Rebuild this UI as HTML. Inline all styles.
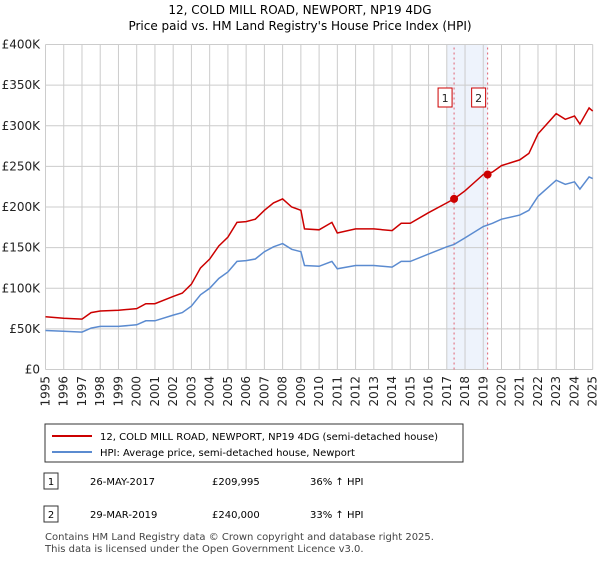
<!DOCTYPE html>
<html><head><meta charset="utf-8"><style>
body{margin:0;background:#fff;font-family:"Liberation Sans","DejaVu Sans",sans-serif;color:#222}
svg text{font-family:"DejaVu Sans","Liberation Sans",sans-serif}
</style></head><body>
<svg width="600" height="560" xmlns="http://www.w3.org/2000/svg">
<text x="300" y="14" font-size="12" text-anchor="middle">12, COLD MILL ROAD, NEWPORT, NP19 4DG</text>
<text x="300" y="30" font-size="12" text-anchor="middle">Price paid vs. HM Land Registry's House Price Index (HPI)</text>
<g id="grid"></g><g id="axes"></g><g id="series"></g>
<g>
<rect x="45" y="424" width="418" height="38" fill="#fff" stroke="#333"/>
<line x1="52" y1="436" x2="92" y2="436" stroke="#cc0000" stroke-width="2"/>
<text x="100" y="440" font-size="10">12, COLD MILL ROAD, NEWPORT, NP19 4DG (semi-detached house)</text>
<line x1="52" y1="452" x2="92" y2="452" stroke="#5b8bd0" stroke-width="2"/>
<text x="100" y="456" font-size="10">HPI: Average price, semi-detached house, Newport</text>
</g>
<g font-size="10">
<rect x="44" y="473" width="14" height="16" fill="#fff" stroke="#333"/><text x="51" y="485" text-anchor="middle">1</text>
<text x="90" y="485">26-MAY-2017</text><text x="212" y="485">£209,995</text><text x="310" y="485">36% ↑ HPI</text>
<rect x="44" y="506" width="14" height="16" fill="#fff" stroke="#333"/><text x="51" y="518" text-anchor="middle">2</text>
<text x="90" y="518">29-MAR-2019</text><text x="212" y="518">£240,000</text><text x="310" y="518">33% ↑ HPI</text>
</g>
<text x="45" y="540" font-size="10" fill="#444">Contains HM Land Registry data © Crown copyright and database right 2025.</text>
<text x="45" y="552" font-size="10" fill="#444">This data is licensed under the Open Government Licence v3.0.</text>
</svg>
<script>
const hpiYears=[1995,1996,1997,1997.5,1998,1999,2000,2000.5,2001,2002,2002.5,2003,2003.5,2004,2004.5,2005,2005.5,2006,2006.5,2007,2007.5,2008,2008.5,2009,2009.2,2010,2010.7,2011,2012,2013,2014,2014.5,2015,2016,2017,2017.4,2018,2019,2019.5,2020,2021,2021.5,2022,2023,2023.5,2024,2024.3,2024.8,2025];
const hpiValues=[48,47,46,51,53,53,55,60,60,67,70,78,92,100,112,120,133,134,136,145,151,155,148,145,128,127,133,124,128,128,126,133,133,142,151,154,162,176,180,185,190,196,213,233,228,231,222,237,235];
const priceValues=[65,63,62,70,72,73,75,81,81,90,94,105,125,136,152,163,181,182,185,196,205,210,200,196,173,172,181,168,173,173,171,180,180,193,205,210,220,240,243,251,258,266,290,315,308,312,302,322,318];
const yTicks=[0,50,100,150,200,250,300,350,400];
const yTickLabels=["£0","£50K","£100K","£150K","£200K","£250K","£300K","£350K","£400K"];
const xTicks=[1995,1996,1997,1998,1999,2000,2001,2002,2003,2004,2005,2006,2007,2008,2009,2010,2011,2012,2013,2014,2015,2016,2017,2018,2019,2020,2021,2022,2023,2024,2025];
const saleDates=[2017.4,2019.24];
const saleValues=[209.995,240];
const saleLabels=["1","2"];
const NS="http://www.w3.org/2000/svg";
const X=y=>45.5+(y-1995)*(592.7-45.5)/30;
const Y=v=>369.5-v*(325/400);
function mk(t,a,p){const e=document.createElementNS(NS,t);for(const k in a)e.setAttribute(k,a[k]);p.appendChild(e);return e;}
const grid=document.getElementById('grid'),axes=document.getElementById('axes'),ser=document.getElementById('series');
const band=mk('rect',{x:X(2017),y:Y(400),width:X(2019.24)-X(2017),height:Y(0)-Y(400),fill:'#eef3fc'},grid);

yTicks.forEach((v,i)=>{const l=mk('line',{x1:X(1995),x2:X(2025),y1:Y(v),y2:Y(v),stroke:'#ccc'},grid);

const t=mk('text',{x:40,y:Y(v)+4,'font-size':12,'text-anchor':'end',fill:'#222'},axes);t.textContent=yTickLabels[i];
});
xTicks.forEach(v=>{const l=mk('line',{x1:X(v),x2:X(v),y1:Y(0),y2:Y(400),stroke:'#ccc'},grid);

const t=mk('text',{x:X(v)+4,y:376,'font-size':12,'text-anchor':'end',fill:'#222',transform:`rotate(-90 ${X(v)+4} 376)`},axes);t.textContent=v;
});
saleDates.forEach((d,i)=>{const l=mk('line',{x1:X(d),x2:X(d),y1:Y(0),y2:Y(400),stroke:'#e06070','stroke-dasharray':'2,3'},ser);

const r=mk('rect',{x:X(d)-16,y:88,width:14,height:19,fill:'#fff',stroke:'#cc0000'},ser);

const t=mk('text',{x:X(d)-9,y:102,'font-size':11,'text-anchor':'middle',fill:'#222'},ser);t.textContent=saleLabels[i];
});
const pts=(vals)=>hpiYears.map((y,i)=>X(y).toFixed(1)+','+Y(vals[i]).toFixed(1)).join(' ');
const hp=mk('polyline',{points:pts(hpiValues),fill:'none',stroke:'#5b8bd0','stroke-width':1.5},ser);

const pp=mk('polyline',{points:pts(priceValues),fill:'none',stroke:'#cc0000','stroke-width':1.5},ser);

saleDates.forEach((d,i)=>{const c=mk('circle',{cx:X(d),cy:Y(saleValues[i]),r:4,fill:'#cc0000'},ser);
});
</script>
</body></html>
